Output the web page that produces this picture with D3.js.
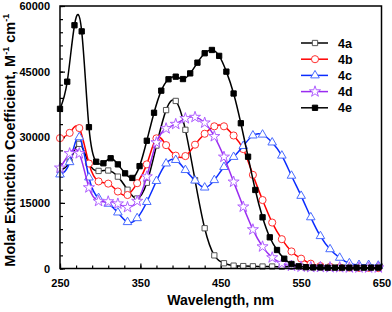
<!DOCTYPE html>
<html>
<head>
<meta charset="utf-8">
<script src="https://d3js.org/d3.v7.min.js"></script>
<style>
body { margin: 0; padding: 0; background: #fff; }
svg { font-family: Arial, "Liberation Sans", sans-serif; font-weight: bold; }
</style>
</head>
<body>
<div id="chart"></div>
<script>
// wavelengths (nm) at which markers sit
var wl12 = [250,262,274,286,298,310,322,334,346,358,370,382,394,406,418,430,442,454,466,478,490,502,514,526,538,550,562,574,586,598,610,622,634,646];
var wl9 = [250,259,268,277,286,295,304,313,322,331,340,349,358,367,376,385,394,403,412,421,430,439,448,457,466,475,484,493,502,511,520,529,538,547,556,565,574,583,592,601,610,619,628,637,646];

var val4a = [22500,24400,28500,24000,22300,22400,21000,18000,16000,19600,28100,36200,38300,31700,20200,9200,3000,1200,650,550,500,450,450,400,400,400,350,350,350,300,300,300,300,300];
var val4b = [29800,31000,32100,24000,19900,19400,17600,16800,19500,23800,29750,28200,25800,25700,28300,30800,32500,32500,30400,27300,21400,15650,10500,6700,3900,2250,1100,550,350,250,200,150,150,100];
var val4c = [21500,24300,30000,20800,16100,14800,12800,10600,11500,15200,20000,24000,24800,22500,20100,18500,20200,23200,25500,28000,30400,30600,28800,25800,21200,16600,11700,7400,4400,2450,1200,800,800,640];
var val4d = [23000,26300,26300,18500,15400,15300,14800,14000,15400,21000,28800,32000,33000,34300,34600,33300,30200,25500,19800,14100,8900,5000,2500,1200,600,400,300,300,250,250,200,200,200,200];
var val4e = [36500,42700,55600,54200,32300,24400,24050,25200,23800,21750,20700,23400,29200,35600,40650,43250,43850,43300,44600,47050,49200,49950,48600,45000,40000,33200,25550,17950,11700,7130,4230,2240,1030,500,300,250,250,200,200,200,200,200,200,200,200];

var names = ['4a','4b','4c','4d','4e'];
var xTicks = [250,350,450,550,650];
var yTicks = [0,15000,30000,45000,60000];

var series = [
  {name:'4a', x:wl12, y:val4a, line:'#000', edge:'#555', fill:'#fff', sym:d3.symbolSquare, size:28},
  {name:'4b', x:wl12, y:val4b, line:'#ff0000', edge:'#ff3030', fill:'#fff', sym:d3.symbolCircle, size:40},
  {name:'4c', x:wl12, y:val4c, line:'#0a2cff', edge:'#4a6cff', fill:'#fff', sym:d3.symbolTriangle, size:32},
  {name:'4d', x:wl12, y:val4d, line:'#9a2cf0', edge:'#b060ff', fill:'#fff', sym:d3.symbolStar, size:38},
  {name:'4e', x:wl9, y:val4e, line:'#000', edge:'#000', fill:'#000', sym:d3.symbolSquare, size:28}
];

var W = 392, H = 312;
var margin = {top: 6, right: 10.5, bottom: 43.5, left: 60};
var width = W - margin.left - margin.right,
    height = H - margin.top - margin.bottom;

var svg = d3.select('#chart').append('svg')
    .attr('width', W).attr('height', H);
var g = svg.append('g')
    .attr('transform', 'translate(' + margin.left + ',' + margin.top + ')');

var x = d3.scaleLinear().domain([250, 650]).range([0, width]);
var y = d3.scaleLinear().domain([0, 60000]).range([height, 0]);

// minor ticks
g.append('g')
  .attr('transform', 'translate(0,' + height + ')')
  .call(d3.axisBottom(x).tickValues(d3.range(250, 651, 20)).tickSize(-3).tickFormat(''))
  .call(function(a){ a.select('.domain').remove(); });
g.append('g')
  .call(d3.axisLeft(y).tickValues(d3.range(0, 60001, 3000)).tickSize(-3).tickFormat(''))
  .call(function(a){ a.select('.domain').remove(); });

// major ticks + labels
var xa = g.append('g')
  .attr('transform', 'translate(0,' + height + ')')
  .call(d3.axisBottom(x).tickValues(xTicks).tickSize(-5).tickPadding(11).tickFormat(d3.format('d')));
xa.select('.domain').remove();
var ya = g.append('g')
  .call(d3.axisLeft(y).tickValues(yTicks).tickSize(-5).tickPadding(10).tickFormat(d3.format('d')));
ya.select('.domain').remove();
g.selectAll('.tick text').attr('font-size', 11).attr('font-family', 'Arial, "Liberation Sans", sans-serif').attr('font-weight', 'bold').attr('fill', '#000');
g.selectAll('.tick line').attr('stroke', '#000').attr('stroke-width', 1.2);

var plot = g.append('g');
var line = d3.line().curve(d3.curveNatural)
  .x(function(d){ return x(d[0]); })
  .y(function(d){ return y(d[1]); });

series.forEach(function(s){
  var pts = s.x.map(function(v, i){ return [v, s.y[i]]; });
  var sg = plot.append('g');
  sg.append('path').datum(pts)
    .attr('d', line)
    .attr('fill', 'none')
    .attr('stroke', s.line)
    .attr('stroke-width', 1.5);
  sg.selectAll('path.m').data(pts).enter().append('path')
    .attr('class', 'm')
    .attr('d', d3.symbol().type(s.sym).size(s.size))
    .attr('transform', function(d){ return 'translate(' + x(d[0]) + ',' + y(d[1]) + ')'; })
    .attr('fill', s.fill)
    .attr('stroke', s.edge)
    .attr('stroke-width', 1);
});

// frame
g.append('rect')
  .attr('x', 0).attr('y', 0)
  .attr('width', width).attr('height', height)
  .attr('fill', 'none')
  .attr('stroke', '#000')
  .attr('stroke-width', 1.5);

// legend
var leg = g.append('g').attr('transform', 'translate(241,37)');
series.forEach(function(s, i){
  var r = leg.append('g').attr('transform', 'translate(0,' + (i * 16.2) + ')');
  r.append('line').attr('x1', 0).attr('x2', 27).attr('y1', 0).attr('y2', 0)
    .attr('stroke', s.line).attr('stroke-width', 1.5);
  r.append('path')
    .attr('d', d3.symbol().type(s.sym).size(s.size))
    .attr('transform', 'translate(14,0)')
    .attr('fill', s.fill).attr('stroke', s.edge);
  r.append('text').attr('x', 37).attr('y', 0).attr('dy', '0.36em')
    .attr('font-size', 12.5).text(s.name);
});

// axis titles
svg.append('text')
  .attr('x', margin.left + width / 2)
  .attr('y', 305)
  .attr('text-anchor', 'middle')
  .attr('font-size', 14)
  .text('Wavelength, nm');

var yl = svg.append('text')
  .attr('transform', 'translate(15,' + (margin.top + height / 2 + 3) + ') rotate(-90)')
  .attr('text-anchor', 'middle')
  .attr('font-size', 14.5);
yl.append('tspan').text('Molar Extinction Coefficient, M');
yl.append('tspan').attr('font-size', 9).attr('dy', -6).text('-1');
yl.append('tspan').attr('dy', 6).text(' cm');
yl.append('tspan').attr('font-size', 9).attr('dy', -6).text('-1');
</script>
</body>
</html>
